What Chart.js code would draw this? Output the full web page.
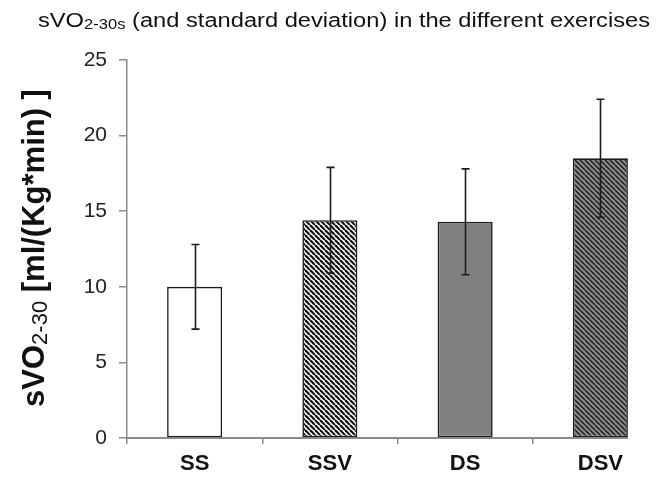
<!DOCTYPE html>
<html>
<head>
<meta charset="utf-8">
<script src="https://cdn.jsdelivr.net/npm/chart.js@4.4.1/dist/chart.umd.min.js"></script>
<style>
  html, body { margin: 0; padding: 0; background: #fff; overflow: hidden; }
  #wrap { width: 668px; height: 482px; }
</style>
</head>
<body>
<div id="wrap"><canvas id="vo2Chart" width="668" height="482"></canvas></div>
<script>
const categories = ["SS", "SSV", "DS", "DSV"];
const means = [10.0, 14.4, 14.3, 18.5];
const stdDevs = [2.8, 3.5, 3.5, 3.9];
const yTicks = [0, 5, 10, 15, 20, 25];

const axisGray = "#8a8a8a";
const ink = "#1c1c1c";
const face = "Arial, 'Liberation Sans', sans-serif";

// diagonal "\" hatch tile used as a bar fill
function hatch(bg, fg, size, lw) {
    const c = document.createElement("canvas");
    c.width = size;
    c.height = size;
    const g = c.getContext("2d");
    g.fillStyle = bg;
    g.fillRect(0, 0, size, size);
    g.strokeStyle = fg;
    g.lineWidth = lw;
    [-size, 0, size].forEach(k => {
        g.beginPath();
        g.moveTo(k, 0);
        g.lineTo(k + size, size);
        g.stroke();
    });
    return g.createPattern(c, "repeat");
}

const fills = [
    "#ffffff",
    hatch("#ffffff", "#111111", 5, 2.2),
    "#808080",
    hatch("#8a8a8a", "#151515", 5, 1.3)
];

// draws a run of [text, font, baselineShift] pieces side by side
function drawRun(ctx, parts, x, y) {
    parts.forEach(([t, f, dy]) => {
        ctx.font = f;
        ctx.fillText(t, x, y + dy);
        x += ctx.measureText(t).width;
    });
}

function runWidth(ctx, parts) {
    let w = 0;
    parts.forEach(([t, f]) => { ctx.font = f; w += ctx.measureText(t).width; });
    return w;
}

// error bars, the x axis line and the two titles with subscripts
const extras = {
    id: "extras",
    afterDatasetsDraw(chart) {
        const ctx = chart.ctx;
        const y = chart.scales.y;
        const area = chart.chartArea;
        const bars = chart.getDatasetMeta(0).data;
        ctx.save();

        // x axis line stops at the right edge of the last bar
        const last = bars[bars.length - 1];
        ctx.strokeStyle = axisGray;
        ctx.lineWidth = 2;
        ctx.beginPath();
        ctx.moveTo(area.left, area.bottom);
        ctx.lineTo(last.x + last.width / 2, area.bottom);
        ctx.stroke();

        ctx.strokeStyle = ink;
        ctx.lineWidth = 1.6;
        bars.forEach((bar, i) => {
            const hi = y.getPixelForValue(means[i] + stdDevs[i]);
            const lo = y.getPixelForValue(means[i] - stdDevs[i]);
            const x = Math.round(bar.x) + 0.5;
            ctx.beginPath();
            ctx.moveTo(x, hi);
            ctx.lineTo(x, lo);
            ctx.moveTo(x - 4, hi);
            ctx.lineTo(x + 4, hi);
            ctx.moveTo(x - 4, lo);
            ctx.lineTo(x + 4, lo);
            ctx.stroke();
        });
        ctx.restore();
    },
    afterDraw(chart) {
        const ctx = chart.ctx;
        ctx.save();
        ctx.fillStyle = "#111";
        ctx.textBaseline = "alphabetic";
        ctx.textAlign = "left";

        // chart title, stretched to span 38..650
        const title = [
            ["sVO", "20px " + face, 0],
            ["2-30s", "14px " + face, 2],
            [" (and standard deviation) in the different exercises", "20px " + face, 0]
        ];
        const tw = runWidth(ctx, title);
        ctx.save();
        ctx.translate(38, 27);
        ctx.scale(612 / tw, 1);
        drawRun(ctx, title, 0, 0);
        ctx.restore();

        // vertical axis title
        const yTitle = [
            ["sVO", "bold 31px " + face, 0],
            ["2-30", "22px " + face, 3],
            [" [ml/(Kg*min) ]", "bold 31px " + face, 0]
        ];
        const yw = runWidth(ctx, yTitle);
        ctx.translate(44, 248);
        ctx.rotate(-Math.PI / 2);
        drawRun(ctx, yTitle, -yw / 2, 0);
        ctx.restore();
    }
};

const ctx = document.getElementById("vo2Chart").getContext("2d");
new Chart(ctx, {
    type: "bar",
    data: {
        labels: categories,
        datasets: [{
            data: means,
            backgroundColor: fills,
            borderColor: ink,
            borderWidth: 1.6,
            borderSkipped: false,
            barPercentage: 1,
            categoryPercentage: 0.407
        }]
    },
    options: {
        responsive: false,
        animation: false,
        layout: { padding: { top: 60, left: 0, right: 0, bottom: 0 } },
        plugins: {
            legend: { display: false },
            tooltip: { enabled: false },
            title: { display: false }
        },
        scales: {
            x: {
                offset: true,
                afterFit: s => { s.height = 44; },
                border: { display: false },
                grid: {
                    offset: true,
                    drawOnChartArea: false,
                    tickLength: 6,
                    color: axisGray,
                    lineWidth: 1.5
                },
                ticks: {
                    color: "#111",
                    padding: 7,
                    font: { family: face, size: 22, weight: "bold" }
                }
            },
            y: {
                min: 0,
                max: 25,
                afterFit: s => { s.width = 127; },
                afterBuildTicks: s => { s.ticks = yTicks.map(v => ({ value: v })); },
                border: { display: true, color: axisGray, width: 1.5 },
                grid: {
                    drawOnChartArea: false,
                    tickLength: 8,
                    color: axisGray,
                    lineWidth: 1.5
                },
                ticks: {
                    color: "#222",
                    padding: 12,
                    font: { family: face, size: 21 }
                }
            }
        }
    },
    plugins: [extras]
});
</script>
</body>
</html>
